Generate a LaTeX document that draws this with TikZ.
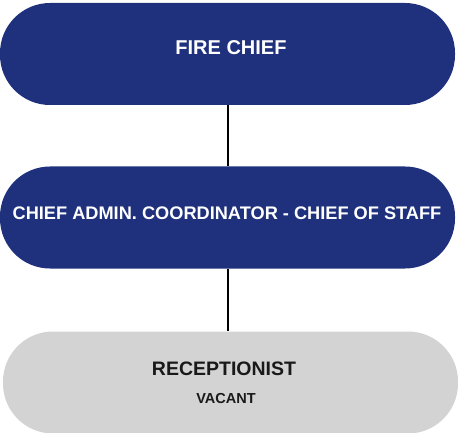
\documentclass[tikz,border=0pt]{standalone}
\usepackage{fontspec}
\setmainfont{Liberation Sans}
\usepackage{tikz}
\usetikzlibrary{positioning}
\definecolor{chiefblue}{HTML}{1F317C}
\definecolor{vacantgray}{HTML}{D3D3D3}

\begin{document}
\begin{tikzpicture}[x=1pt, y=-1pt,
        postbox/.style={rectangle, rounded corners=50pt, minimum width=455pt, minimum height=102pt, inner sep=0pt},
        posttext/.style={anchor=base, inner sep=0pt, font=\bfseries}]
        \useasboundingbox (0, 0) rectangle (458, 433);
        \node [postbox, fill=chiefblue] (fire) at (227.5, 54) {};
        \node [postbox, fill=chiefblue] (admin) at (227.5, 217.5) {};
        \node [postbox, fill=vacantgray] (recep) at (230.5, 382.5) {};
        \node [posttext, text=white, font=\bfseries\fontsize{20}{24}\selectfont] (firetxt) at (231, 54.5) {FIRE CHIEF};
        \node [posttext, text=white, font=\bfseries\fontsize{18.2}{22}\selectfont] (admintxt) at (227, 219) {CHIEF ADMIN. COORDINATOR - CHIEF OF STAFF};
        \node [posttext, text=black!90, font=\bfseries\fontsize{19.5}{24}\selectfont] (receptxt) at (224, 375) {RECEPTIONIST};
        \node [posttext, text=black!90, font=\bfseries\fontsize{14.5}{18}\selectfont] (vacanttxt) at (226, 403) {VACANT};
        \draw [line width=2pt, black] (fire.south) -- (admin.north);
        \draw [line width=2pt, black] (admin.south) -- (admin.south |- recep.north);
    \end{tikzpicture}
\end{document}
